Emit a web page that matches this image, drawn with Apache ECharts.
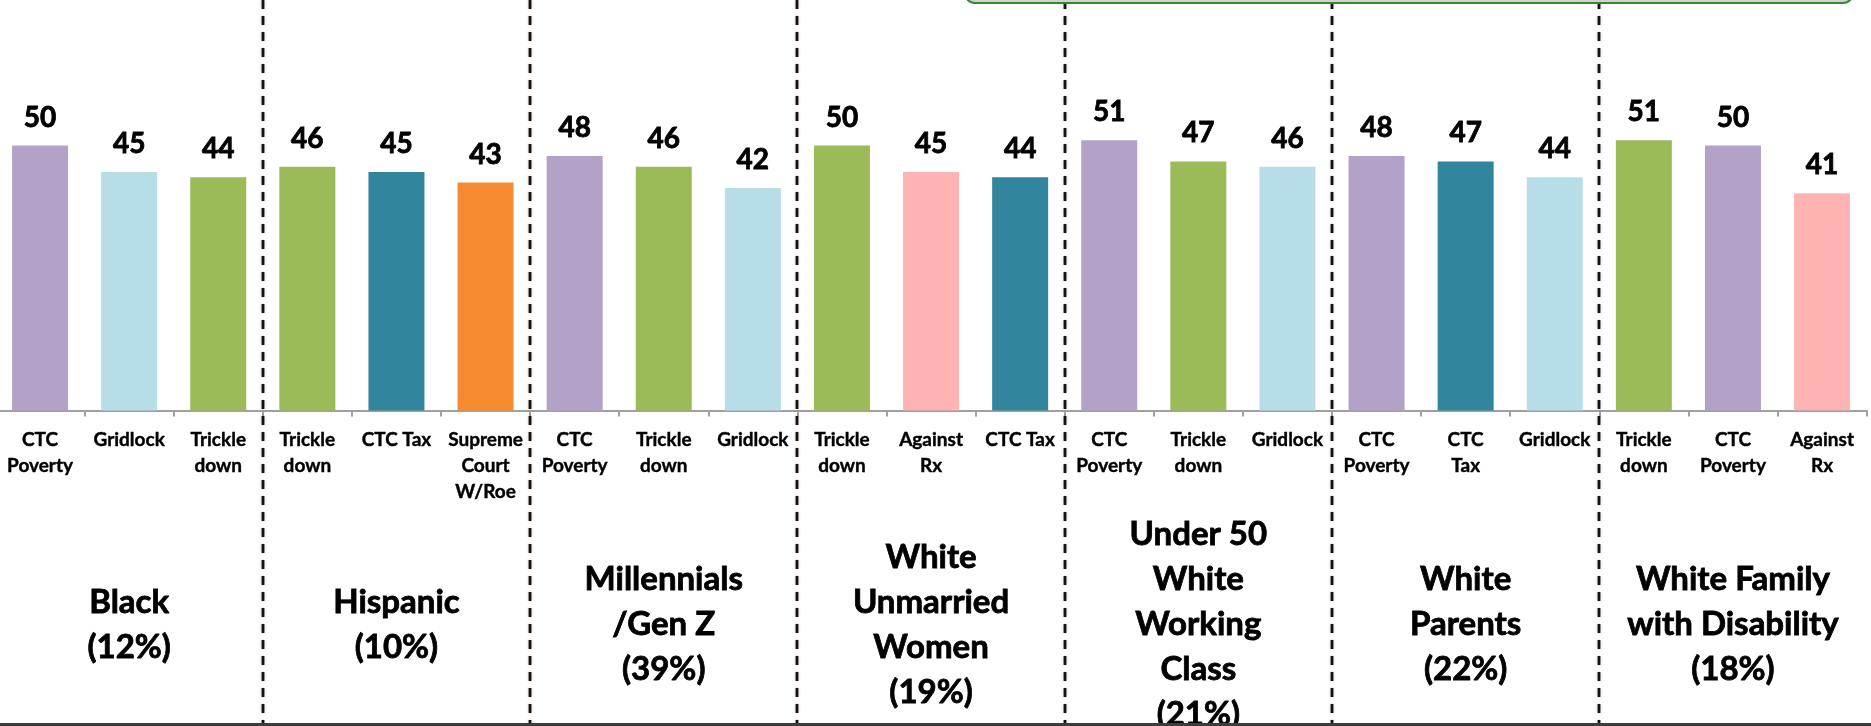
<!DOCTYPE html>
<html>
<head>
<meta charset="utf-8">
<script src="https://cdn.jsdelivr.net/npm/echarts@6/dist/echarts.min.js"></script>
<style>
  html, body { margin: 0; padding: 0; background: #fff; }
  #main { width: 1871px; height: 726px; }
</style>
</head>
<body>
<div id="main"></div>
<script>
// message tested in each group (x axis labels)
const categories = [
  'CTC\nPoverty', 'Gridlock', 'Trickle\ndown',
  'Trickle\ndown', 'CTC Tax', 'Supreme\nCourt\nW/Roe',
  'CTC\nPoverty', 'Trickle\ndown', 'Gridlock',
  'Trickle\ndown', 'Against\nRx', 'CTC Tax',
  'CTC\nPoverty', 'Trickle\ndown', 'Gridlock',
  'CTC\nPoverty', 'CTC\nTax', 'Gridlock',
  'Trickle\ndown', 'CTC\nPoverty', 'Against\nRx'
]
// scores
const values = [
  50, 45, 44,
  46, 45, 43,
  48, 46, 42,
  50, 45, 44,
  51, 47, 46,
  48, 47, 44,
  51, 50, 41
]
// groups and how many bars each one has
const groups = [
  'Black\n(12%)',
  'Hispanic\n(10%)',
  'Millennials\n/Gen Z\n(39%)',
  'White\nUnmarried\nWomen\n(19%)',
  'Under 50\nWhite\nWorking\nClass\n(21%)',
  'White\nParents\n(22%)',
  'White Family\nwith Disability\n(18%)'
]
const groupSizes = [3, 3, 3, 3, 3, 3, 3]

// colour by message
const topicColor = {
  'CTC Poverty': '#b3a2c7',
  'Gridlock': '#b7dee8',
  'Trickle down': '#9bbb59',
  'CTC Tax': '#31859c',
  'Supreme Court W/Roe': '#f58a30',
  'Against Rx': '#ffb3b3'
}

const FONT = 'Lato, "Liberation Sans", sans-serif'

// index where each new group starts (divider lines)
let dividers = []
let acc = 0
groupSizes.forEach((n, i) => {
  acc += n
  if (i < groupSizes.length - 1) dividers.push([acc, 0])
})

let myChart = echarts.init(document.getElementById('main'))
let option = {
  backgroundColor: '#fff',
  animation: false,
  grid: {
    left: -4.5,
    right: 4.4,
    top: 39.5,
    bottom: 315.5,
    containLabel: false,
    outerBoundsMode: 'none'
  },
  xAxis: [
    {
      type: 'category',
      data: categories,
      position: 'bottom',
      axisLine: { lineStyle: { color: '#a0a0a0', width: 2 } },
      axisTick: { show: true, length: 6, lineStyle: { color: '#a0a0a0', width: 2 } },
      axisLabel: {
        interval: 0,
        margin: 16,
        color: '#000',
        fontFamily: FONT,
        fontWeight: 'bold',
        fontSize: 19,
        lineHeight: 26,
        align: 'center',
        // 加一点描边，让字更粗
        textBorderColor: '#000',
        textBorderWidth: 0.4
      },
      splitLine: { show: false }
    },
    {
      type: 'category',
      data: groups,
      position: 'bottom',
      axisLine: { show: false },
      axisTick: { show: false },
      axisLabel: {
        interval: 0,
        margin: 214,
        verticalAlign: 'middle',
        color: '#000',
        fontFamily: FONT,
        fontWeight: 'bold',
        fontSize: 33,
        lineHeight: 45,
        align: 'center',
        textBorderColor: '#000',
        textBorderWidth: 0.8
      },
      splitLine: { show: false }
    }
  ],
  yAxis: {
    type: 'value',
    min: 0,
    max: 70,
    show: false,
    splitLine: { show: false }
  },
  series: [
    {
      type: 'bar',
      xAxisIndex: 0,
      barWidth: 56,
      data: values,
      itemStyle: {
        color: function (params) {
          return topicColor[categories[params.dataIndex].replace(/\n/g, ' ')]
        }
      },
      label: {
        show: true,
        position: 'top',
        distance: 14,
        color: '#000',
        fontFamily: FONT,
        fontWeight: 'bold',
        fontSize: 28,
        textBorderColor: '#000',
        textBorderWidth: 0.8
      }
    },
    {
      // dashed dividers between groups, full height
      type: 'custom',
      xAxisIndex: 0,
      clip: false,
      silent: true,
      z: 5,
      data: dividers,
      renderItem: function (params, api) {
        let pt = api.coord([api.value(0), 0])
        let half = api.size([1, 0])[0] / 2
        let x = Math.round(pt[0] - half)
        return {
          type: 'line',
          shape: { x1: x, y1: 0, x2: x, y2: api.getHeight() - 3 },
          style: {
            stroke: '#1a100a',
            lineWidth: 2.8,
            lineDash: [9, 7],
            shadowBlur: 3,
            shadowColor: 'rgba(0,0,0,0.25)'
          }
        }
      }
    }
  ],
  graphic: [
    {
      type: 'rect',
      z: 100,
      shape: { x: 965, y: -30, width: 888, height: 33, r: 10 },
      style: { fill: '#d0d0d0', stroke: '#2e8b2e', lineWidth: 2 }
    },
    {
      type: 'rect',
      z: 100,
      shape: { x: 0, y: 723, width: 1871, height: 3 },
      style: { fill: '#3c3c3c' }
    }
  ]
}

myChart.setOption(option)

window.addEventListener('resize', function () {
  myChart.resize()
})
</script>
</body>
</html>
